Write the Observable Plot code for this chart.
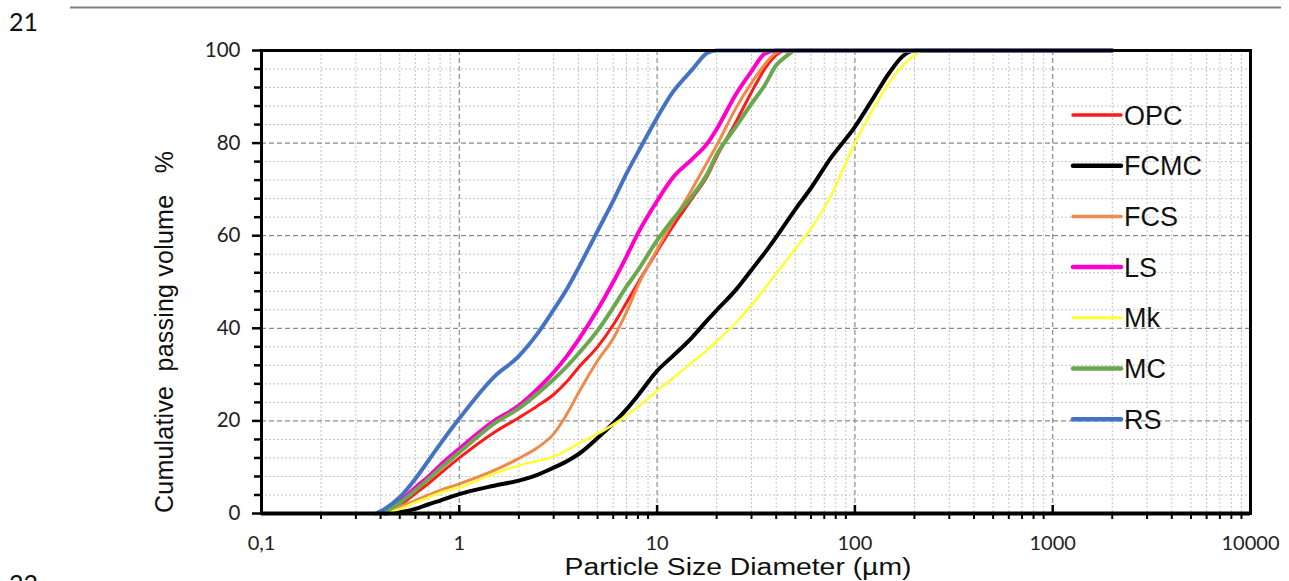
<!DOCTYPE html>
<html><head><meta charset="utf-8">
<script src="https://cdn.jsdelivr.net/npm/d3@7"></script>
<script src="https://cdn.jsdelivr.net/npm/@observablehq/plot@0.6"></script>
<style>
body{margin:0;background:#fff;}
#wrap{position:relative;width:1289px;height:581px;overflow:hidden;background:#fff;}
#wrap svg{position:absolute;left:0;top:0;}
g[aria-label="frame"]{filter:drop-shadow(3px 5px 3px rgba(0,0,0,0.35));}
</style></head><body><div id="wrap"></div>
<script>
// Particle size (µm) at which each cumulative value was read
const sizes = [0.38, 0.4, 0.42, 0.5, 0.6, 0.7, 0.8, 1, 1.5, 2, 2.5, 3, 3.5, 4, 5, 6, 7, 8, 10, 12, 15, 18, 20, 25, 30, 35, 40, 45, 50, 60, 75, 100, 125, 150, 175, 200, 220, 2000];
// Cumulative passing volume (%) per material, aligned to sizes
const OPC  = [null, 0, 0.3, 1.8, 4.3, 6.5, 8.6, 12, 17.5, 20.7, 23.3, 25.7, 28.5, 31.5, 36, 40.7, 45.5, 49.8, 56.6, 62, 68, 73, 77, 84.5, 91, 96, 99, 100, 100, 100, 100, 100, 100, 100, 100, 100, 100, 100];
const FCMC = [null, null, 0, 0.3, 1, 2, 2.8, 4.2, 6, 7.1, 8.4, 9.9, 11.3, 12.8, 16.3, 19.5, 22.5, 25.5, 30.8, 34, 38, 41.8, 43.9, 48.3, 52.6, 56.3, 59.7, 62.9, 65.7, 70.3, 76.6, 83.5, 90, 95.3, 98.8, 100, 100, 100];
const FCS  = [null, 0, 0.3, 1.5, 2.8, 4, 5, 6.4, 9.3, 11.9, 14.3, 17.2, 21.5, 26, 33, 37.8, 43.5, 49.2, 57, 63, 70, 76, 79.5, 87.5, 93, 97, 99.5, 100, 100, 100, 100, 100, 100, 100, 100, 100, 100, 100];
const LS   = [null, 0, 0.5, 2.5, 5.6, 8, 10.4, 14, 20, 23.3, 27, 30.5, 34, 37.5, 44, 50, 55.5, 60.5, 67.5, 72.5, 76.5, 80, 83, 90.5, 95.5, 99.3, 100, 100, 100, 100, 100, 100, 100, 100, 100, 100, 100, 100];
const Mk   = [null, null, 0, 1, 2.4, 3.5, 4.5, 5.6, 8.6, 10.4, 11.4, 12.3, 13.7, 15.1, 17.2, 19.2, 21.2, 23, 26.5, 29.2, 32.6, 35.4, 37.2, 41.2, 45, 48.6, 51.8, 54.6, 57.2, 61.5, 68.3, 80, 87.7, 93.3, 96.8, 99, 100, 100];
const MC   = [null, 0, 0.4, 2.3, 5, 7.5, 9.7, 13.2, 19.4, 22.7, 26, 29, 31.8, 34.5, 39.5, 44.5, 49, 52.5, 59, 63.5, 68.5, 73.5, 77.5, 83.5, 88.5, 92.5, 96.8, 98.8, 100, 100, 100, 100, 100, 100, 100, 100, 100, 100];
const RS   = [0, 0.5, 1, 3.5, 7.5, 11.5, 15, 20.5, 29.5, 34, 39, 44, 48.5, 53, 61, 67.5, 73.4, 78, 85.5, 91, 95.8, 99.5, 100, 100, 100, 100, 100, 100, 100, 100, 100, 100, 100, 100, 100, 100, 100, 100];

const seriesNames  = ["OPC", "FCMC", "FCS", "LS", "Mk", "MC", "RS"];
const seriesValues = [OPC, FCMC, FCS, LS, Mk, MC, RS];
const seriesColors = ["#ff1a1a", "#000000", "#f0894a", "#ff00cc", "#ffff33", "#6aa84f", "#4472c4"];
const seriesWidths = [3, 4, 3, 4, 2.5, 4, 4];

const xTicks = [0.1, 1, 10, 100, 1000, 10000];
const xTickLabels = ["0,1", "1", "10", "100", "1000", "10000"];
const yTicks = [0, 20, 40, 60, 80, 100];
const yTickLabels = ["0", "20", "40", "60", "80", "100"];
const xTitle = "Particle Size Diameter (µm)";
const yTitle = "Cumulative\u00a0 passing volume\u00a0 \u00a0%";

// minor grid positions
const xMinor = [];
for (const dec of [0.1, 1, 10, 100, 1000]) for (let k = 2; k <= 9; k++) xMinor.push(+(dec * k).toPrecision(3));
const yMinor = [];
for (let v = 4; v < 100; v += 4) if (v % 20 !== 0) yMinor.push(v);
const xMajorInner = [1, 10, 100, 1000];

const W = 1289, H = 581;
const marks = [
  Plot.ruleX(xMinor, {stroke: "#c4c4c4", strokeWidth: 1, strokeDasharray: "2,2"}),
  Plot.ruleY(yMinor, {stroke: "#c4c4c4", strokeWidth: 1, strokeDasharray: "2,2"}),
  Plot.ruleX(xMajorInner, {stroke: "#8c8c8c", strokeWidth: 1.2, strokeDasharray: "5,3"}),
  Plot.ruleY([20, 40, 60, 80], {stroke: "#8c8c8c", strokeWidth: 1.2, strokeDasharray: "5,3"}),
];
seriesNames.forEach((name, i) => {
  const rows = [];
  sizes.forEach((s, j) => { const v = seriesValues[i][j]; if (v != null) rows.push({x: s, y: v}); });
  marks.push(Plot.line(rows, {x: "x", y: "y", stroke: seriesColors[i], strokeWidth: seriesWidths[i], curve: "monotone-x"}));
});
marks.push(
  Plot.frame({stroke: "#000", strokeWidth: 3}),
  Plot.ruleY([0], {stroke: "#000", strokeWidth: 4}),
  Plot.axisY({ticks: yMinor, tickSize: 7, strokeWidth: 2.5, tickFormat: () => "", label: null}),
  Plot.axisY({ticks: yTicks, tickSize: 9, strokeWidth: 2.5, tickPadding: 12, tickFormat: (d) => yTickLabels[yTicks.indexOf(d)], fontSize: 20.5, fontFamily: "Lato", fill: "#222", label: null}),
  Plot.axisX({ticks: xMinor, tickSize: 6, strokeWidth: 2, tickFormat: () => "", label: null}),
  Plot.axisX({ticks: xMajorInner, tickSize: -8, strokeWidth: 2.5, tickFormat: () => "", label: null}),
  Plot.axisX({ticks: xTicks, tickSize: 0, tickPadding: 22, tickFormat: (d) => xTickLabels[xTicks.indexOf(d)], fontSize: 20, fontFamily: "Lato", fill: "#222", label: null}),
  Plot.text([xTitle], {text: (d) => d, frameAnchor: "bottom", textAnchor: "middle", lineAnchor: "middle", dx: -18, dy: 54, fontSize: 23.5, fontFamily: "Liberation Sans", fill: "#111"}),
  Plot.text([yTitle], {text: (d) => d, frameAnchor: "left", textAnchor: "middle", lineAnchor: "middle", rotate: -90, dx: -97, dy: 50, fontSize: 25, fontFamily: "Liberation Sans", fill: "#111"})
);

const chart = Plot.plot({
  width: W, height: H,
  marginLeft: 261, marginRight: 39, marginTop: 50, marginBottom: 68,
  x: {type: "log", domain: [0.1, 10000]},
  y: {domain: [0, 100]},
  style: {background: "transparent", overflow: "visible"},
  marks
});
const wrap = document.getElementById("wrap");
wrap.appendChild(chart);
// stretch the axis titles to the reference lengths
d3.select(chart).selectAll("text").each(function () {
  const t = this.textContent;
  if (t === xTitle) d3.select(this).attr("textLength", 347).attr("lengthAdjust", "spacingAndGlyphs");
  if (t === yTitle) d3.select(this).attr("textLength", 362).attr("lengthAdjust", "spacing");
});

// page decorations and legend overlay
const ov = d3.select(wrap).append("svg").attr("width", W).attr("height", H).style("pointer-events", "none");
ov.append("line").attr("x1", 70).attr("x2", 1281).attr("y1", 7.5).attr("y2", 7.5).attr("stroke", "#808080").attr("stroke-width", 2);
ov.append("text").attr("x", 9).attr("y", 31).attr("font-family", "Lato").attr("font-size", 25).attr("fill", "#111").text("21");
ov.append("text").attr("x", 9).attr("y", 593).attr("font-family", "Lato").attr("font-size", 25).attr("fill", "#111").text("22");
const lg = ov.append("g");
seriesNames.forEach((name, i) => {
  const y = 115 + i * 50.7;
  lg.append("line").attr("x1", 1073).attr("x2", 1121).attr("y1", y).attr("y2", y)
    .attr("stroke", seriesColors[i]).attr("stroke-width", seriesWidths[i] + 0.5).attr("stroke-linecap", "round");
  lg.append("text").attr("x", 1124).attr("y", y + 9.5).attr("font-family", "Liberation Sans").attr("font-size", 27).attr("fill", "#111").text(name);
});
</script></body></html>
